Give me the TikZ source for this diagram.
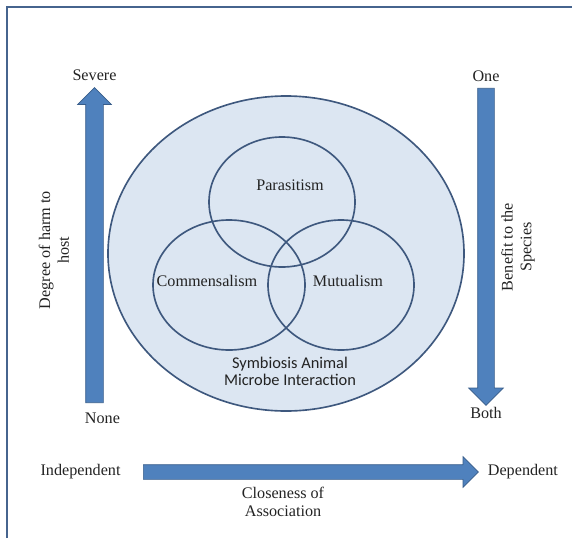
\documentclass[tikz,border=0pt]{standalone}
\usepackage{fontspec}
\setmainfont{Liberation Serif}
\newfontfamily\calibrifont{Carlito}
\usetikzlibrary{shapes.arrows, shapes.geometric, positioning}
\definecolor{arrowblue}{RGB}{79, 129, 189}
\definecolor{arrowedge}{RGB}{56, 93, 138}
\definecolor{setfill}{RGB}{220, 230, 242}
\definecolor{setedge}{RGB}{62, 88, 126}
\definecolor{frameblue}{RGB}{70, 100, 142}
\definecolor{labelgray}{RGB}{35, 35, 35}

\tikzset{
    blockarrow/.style={single arrow, draw=arrowedge, fill=arrowblue, line width=0.6pt,
        inner xsep=0pt, single arrow head indent=0pt, anchor=tail},
    setring/.style={draw=setedge, line width=1.4pt},
    lbl/.style={inner sep=1pt, text=labelgray, font=\fontsize{13.8}{16}\selectfont},
    sanslbl/.style={inner sep=1pt, text=labelgray, align=center,
        font=\calibrifont\fontsize{14}{14.6}\selectfont}
}

\begin{document}
\begin{tikzpicture}[x=0.03cm, y=-0.03cm]
    \useasboundingbox (0,0) rectangle (572,538);

    % frame
    \draw[frameblue, line width=1.6pt] (7,538) -- (7,7) -- (572,7);

    % outer set
    \draw[setring, fill=setfill] (286,253.5) ellipse [x radius=178, y radius=157.5];

    % the three relations
    \draw[setring] (282,202) ellipse [x radius=73, y radius=65];
    \draw[setring] (229,285) ellipse [x radius=76, y radius=65];
    \draw[setring] (341,285) ellipse [x radius=73, y radius=65];

    \node[lbl] (para) at (290,185) {Parasitism};
    \node[lbl] (comm) at (207,281) {Commensalism};
    \node[lbl] (mutu) at (348,281) {Mutualism};
    \node[sanslbl] (symb) at (290,371.5) {Symbiosis Animal\\Microbe Interaction};

    % harm axis
    \node[blockarrow, rotate=90, minimum height=9.45cm, inner ysep=0.255cm,
        single arrow head extend=0.24cm] (harm) at (94.5,403) {};
    \node[lbl, above=4.5pt of harm.tip] (severe) {Severe};
    \node[lbl, below=7pt of harm.tail, xshift=0.24cm] (none) {None};
    \node[lbl, rotate=90, align=center] (harmtxt) at (54,250) {Degree of harm to\\host};

    % benefit axis
    \node[blockarrow, rotate=-90, minimum height=9.51cm, inner ysep=0.24cm,
        single arrow head extend=0.27cm] (benefit) at (486,88) {};
    \node[lbl, above=4pt of benefit.tail] (one) {One};
    \node[lbl, below=0pt of benefit.tip] (both) {Both};
    \node[lbl, rotate=90, align=center] (benefittxt) at (518,247) {Benefit to the\\Species};

    % closeness axis
    \node[blockarrow, minimum height=10.05cm, inner ysep=0.21cm,
        single arrow head extend=0.24cm] (closeness) at (143,472) {};
    \node[lbl, left=18pt of closeness.tail] (indep) {Independent};
    \node[lbl, right=6.5pt of closeness.tip] (dep) {Dependent};
    \node[lbl, align=center] (assoc) at (283,502) {Closeness of\\Association};

\end{tikzpicture}
\end{document}
